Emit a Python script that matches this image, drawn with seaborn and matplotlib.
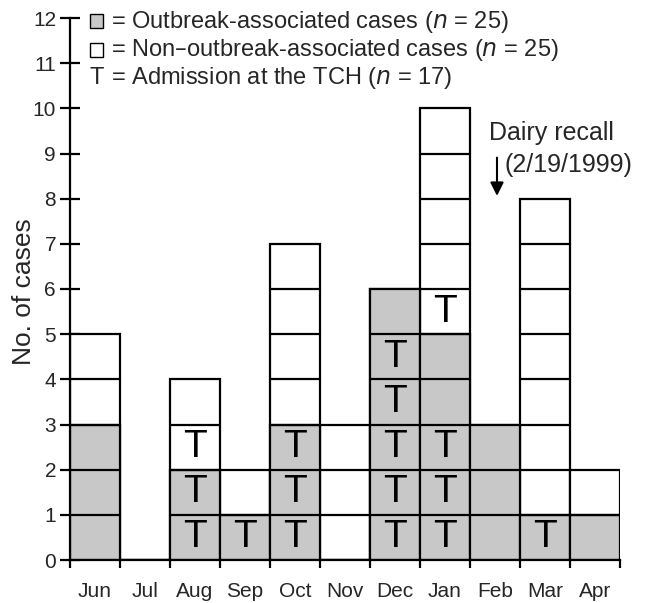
import numpy as np
import pandas as pd
import matplotlib
matplotlib.use("Agg")
from matplotlib import pyplot as plt
from matplotlib.patches import Rectangle
import seaborn as sns

months = ["Jun", "Jul", "Aug", "Sep", "Oct", "Nov", "Dec", "Jan", "Feb", "Mar", "Apr"]
outbreak = [3, 0, 2, 1, 3, 0, 6, 5, 3, 1, 1]
non_outbreak = [2, 0, 2, 1, 4, 3, 0, 5, 0, 7, 1]
# cells (0 = bottom cell) that carry a "T" (admission at the TCH)
tch_cells = {"Aug": [0, 1, 2], "Sep": [0], "Oct": [0, 1, 2],
             "Dec": [0, 1, 2, 3, 4], "Jan": [0, 1, 2, 5], "Mar": [0]}

sns.set_theme(style="white")
plt.rcParams["font.family"] = ["Liberation Sans", "DejaVu Sans"]
narrow = ["Liberation Sans Narrow", "Liberation Sans", "DejaVu Sans"]

df = pd.DataFrame({"month": months, "outbreak": outbreak, "non": non_outbreak})
df["total"] = df["outbreak"] + df["non"]

fig = plt.figure(figsize=(6.52, 6.03), dpi=100)
ax = fig.add_axes([70 / 652, 43 / 603, 550 / 652, 542 / 603])

lw = 1.6
sns.barplot(data=df, x="month", y="total", order=months, color="white",
            edgecolor="black", linewidth=lw, width=1.0, saturation=1, ax=ax)
sns.barplot(data=df, x="month", y="outbreak", order=months, color="#c8c8c8",
            edgecolor="black", linewidth=lw, width=1.0, saturation=1, ax=ax)

# divider lines between single cases, and the T marks
for i, m in enumerate(months):
    tot = df.loc[i, "total"]
    for lev in range(1, tot):
        ax.plot([i - 0.5, i + 0.5], [lev, lev], color="black", lw=lw, zorder=3)
    for lev in tch_cells.get(m, []):
        ax.text(i, lev + 0.5, "T", ha="center", va="center", fontsize=28,
                color="black", zorder=4)

ax.set_xlim(-0.5, 10.5)
ax.set_ylim(0, 12)
ax.set_yticks(range(0, 13))
ax.set_xticks(range(len(months)))
ax.set_xticklabels(months)
ax.set_xticks(np.arange(-0.5, 11, 1), minor=True)
ax.tick_params(axis="x", which="major", length=0, pad=16)
ax.tick_params(axis="x", which="minor", length=6, width=lw, direction="out",
               color="black", bottom=True)
ax.tick_params(axis="y", which="major", length=14, width=lw, direction="inout",
               color="black", left=True, pad=3)
for lab in ax.get_xticklabels() + ax.get_yticklabels():
    lab.set_family(narrow)
    lab.set_fontsize(15)
ax.set_xlabel("")
ax.set_ylabel("No. of cases", fontsize=19)
ax.yaxis.set_label_coords(-0.062, 0.496)
for s in ["top", "right"]:
    ax.spines[s].set_visible(False)
for s in ["left", "bottom"]:
    ax.spines[s].set_color("black")
    ax.spines[s].set_linewidth(lw)

# legend
leg_fs = 17
fig.add_artist(Rectangle((90 / 652, 1 - 28 / 603), 13 / 652, 14 / 603,
                         transform=fig.transFigure, facecolor="#c8c8c8",
                         edgecolor="black", lw=1.0))
fig.add_artist(Rectangle((90 / 652, 1 - 57 / 603), 13 / 652, 14 / 603,
                         transform=fig.transFigure, facecolor="white",
                         edgecolor="black", lw=1.0))
fig.text(111 / 652, 1 - 22 / 603, "= Outbreak-associated cases ($\\it{n}$ = 25)",
         fontsize=leg_fs, va="center", ha="left")
fig.text(111 / 652, 1 - 50 / 603, "= Non\u2013outbreak-associated cases ($\\it{n}$ = 25)",
         fontsize=leg_fs, va="center", ha="left")
fig.text(89 / 652, 1 - 78 / 603, "T", fontsize=leg_fs, va="center", ha="left")
fig.text(111 / 652, 1 - 78 / 603, "= Admission at the TCH ($\\it{n}$ = 17)",
         fontsize=leg_fs, va="center", ha="left")

# dairy recall annotation
ax.annotate("", xy=(8.04, 8.0), xytext=(8.04, 8.97),
            arrowprops=dict(arrowstyle="-|>", color="black", lw=1.5,
                            mutation_scale=20))
ax.text(7.88, 9.45, "Dairy recall", fontsize=18, ha="left", va="center")
ax.text(8.2, 8.74, "(2/19/1999)", fontsize=18, ha="left", va="center")

fig.savefig("out.png", dpi=100)
